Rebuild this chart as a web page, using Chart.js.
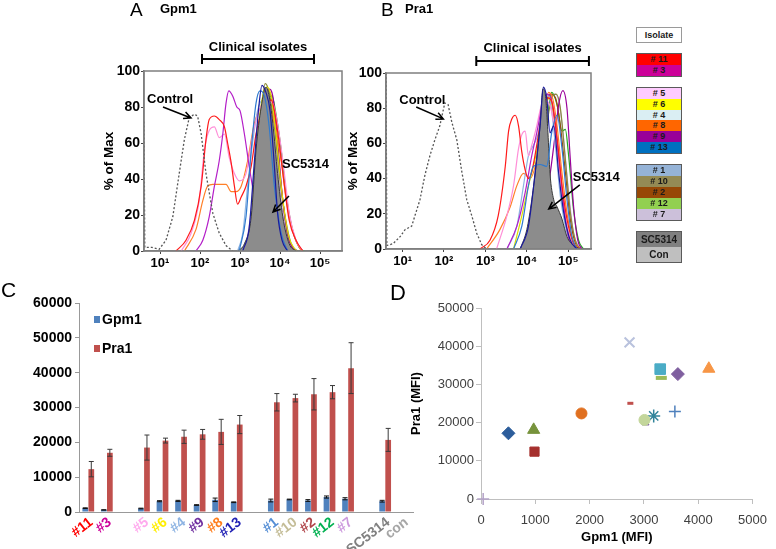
<!DOCTYPE html>
<html>
<head>
<meta charset="utf-8">
<script src="https://cdn.jsdelivr.net/npm/chart.js@4.4.1/dist/chart.umd.min.js"></script>
<style>
body { margin: 0; background: #fff; }
#page { position: relative; width: 776px; height: 549px; overflow: hidden; font-family: "Liberation Sans", Arial, sans-serif; }
#page canvas { position: absolute; left: 0; top: 0; }
.t { position: absolute; line-height: 1; z-index: 5; color: #000; }
.b { font-weight: bold; }
.grp { position: absolute; left: 636px; width: 46px; box-sizing: border-box; border: 1px solid #5a5a5a; z-index: 5; }
.grp div { text-align: center; font: bold 9px "Liberation Sans", Arial, sans-serif; color: #1a1a1a; overflow: hidden; }
</style>
</head>
<body>
<div id="page">
  <canvas id="cA" width="776" height="549"></canvas>
  <canvas id="cB" width="776" height="549"></canvas>
  <canvas id="cC" width="776" height="549"></canvas>
  <canvas id="cD" width="776" height="549"></canvas>
  <div class="t" style="left:130px;top:0;font-size:19px">A</div>
  <div class="t b" style="left:160px;top:2px;font-size:13px">Gpm1</div>
  <div class="t" style="left:381px;top:0;font-size:19px">B</div>
  <div class="t b" style="left:405px;top:2px;font-size:13px">Pra1</div>
  <div class="t" style="left:1px;top:279px;font-size:21px">C</div>
  <div class="t" style="left:390px;top:282px;font-size:22px">D</div>
  <div id="key"></div>
</div>
<script>
Chart.defaults.font.family = '"Liberation Sans", Arial, sans-serif';
Chart.defaults.color = '#000';

// ---- A / B histograms: [log10 intensity, % of max]
const decadeTicks = [1, 2, 3, 4, 5];
const sup = { 1: '\u00b9', 2: '\u00b2', 3: '\u00b3', 4: '\u2074', 5: '\u2075' };

const gpmCtrl = [[0.6,72],[0.62,2],[0.8,2],[0.98,1],[1.15,6],[1.32,19],[1.48,43],[1.61,62],[1.73,74],[1.86,76],[1.94,75],[2.03,65],[2.15,43],[2.32,21],[2.48,10],[2.65,3],[2.82,0]];
const gpmSC5314 = [[2.94,0],[3.11,4],[3.28,19],[3.40,56],[3.53,80],[3.65,91],[3.72,87],[3.82,71],[3.94,43],[4.07,19],[4.23,4],[4.40,0]];
const gpm13 = [[3.07,0],[3.23,13],[3.36,50],[3.47,80],[3.55,92],[3.65,88],[3.75,78],[3.86,47],[3.94,21],[4.05,6],[4.19,0]];
const gpm1 = [[2.98,0],[3.15,19],[3.28,56],[3.40,82],[3.50,89],[3.61,86],[3.73,69],[3.86,36],[4.03,10],[4.19,0]];
const gpm11 = [[1.40,0],[1.65,6],[1.86,17],[2.03,36],[2.15,62],[2.23,73],[2.36,75],[2.48,73],[2.61,69],[2.69,60],[2.78,49],[2.86,36],[2.94,26],[3.03,30],[3.15,36],[3.28,47],[3.40,65],[3.53,76],[3.65,80],[3.78,84],[3.86,78],[3.98,60],[4.11,36],[4.23,17],[4.40,6],[4.57,0]];
const gpm3 = [[1.90,0],[2.07,6],[2.23,19],[2.36,36],[2.48,50],[2.57,65],[2.65,82],[2.72,89],[2.82,86],[2.92,80],[3.00,78],[3.11,65],[3.23,47],[3.36,30],[3.48,19],[3.65,10],[3.78,4],[3.94,0]];
const gpm5 = [[1.53,0],[1.78,10],[1.98,28],[2.11,56],[2.23,67],[2.36,69],[2.48,63],[2.61,65],[2.73,52],[2.86,43],[2.98,39],[3.15,43],[3.32,65],[3.48,78],[3.65,84],[3.82,82],[3.98,65],[4.11,43],[4.23,21],[4.40,6],[4.57,0]];
const gpm6 = [[3.15,0],[3.30,21],[3.42,60],[3.55,84],[3.67,91],[3.78,86],[3.90,65],[4.05,32],[4.22,8],[4.40,0]];
const gpm4 = [[2.94,0],[3.07,10],[3.19,36],[3.32,61],[3.44,78],[3.57,84],[3.69,80],[3.82,61],[3.98,28],[4.15,6],[4.32,0]];
const gpm8 = [[1.61,0],[1.90,12],[2.07,28],[2.19,36],[2.32,37],[2.48,37],[2.65,37],[2.78,33],[2.90,33],[3.03,36],[3.19,50],[3.36,71],[3.53,80],[3.69,82],[3.86,71],[4.03,50],[4.19,24],[4.36,8],[4.53,0]];
const gpm9 = [[3.19,0],[3.33,21],[3.47,58],[3.61,82],[3.72,90],[3.82,86],[3.94,61],[4.07,28],[4.23,6],[4.40,0]];
const gpm10 = [[3.15,0],[3.30,17],[3.42,50],[3.53,78],[3.63,93],[3.73,88],[3.86,69],[3.98,43],[4.13,19],[4.28,4],[4.44,0]];
const gpm2 = [[3.19,0],[3.33,19],[3.47,56],[3.58,80],[3.69,89],[3.80,84],[3.92,61],[4.05,32],[4.19,9],[4.36,0]];
const gpm12 = [[3.15,0],[3.32,13],[3.44,43],[3.57,71],[3.69,84],[3.80,86],[3.90,76],[4.03,56],[4.15,32],[4.30,13],[4.48,2],[4.61,0]];
const gpm7 = [[3.11,0],[3.25,17],[3.38,50],[3.51,74],[3.63,84],[3.75,80],[3.88,58],[4.03,28],[4.19,6],[4.36,0]];

const praCtrl = [[0.6,100],[0.62,2],[0.77,3],[0.94,7],[1.06,11],[1.22,13],[1.30,19],[1.42,28],[1.54,42],[1.66,53],[1.78,62],[1.90,70],[2.02,83],[2.10,82],[2.19,72],[2.31,62],[2.43,44],[2.55,28],[2.67,19],[2.79,9],[2.91,2.5],[3.03,0]];
const praSC5314 = [[3.84,0],[4.00,11],[4.12,28],[4.24,51],[4.32,70],[4.39,91],[4.44,89],[4.51,66],[4.56,43],[4.65,28],[4.73,24],[4.85,17],[4.97,7],[5.13,2],[5.29,0]];
const pra13 = [[3.84,0],[4.04,13],[4.20,43],[4.32,70],[4.40,92],[4.48,86],[4.56,66],[4.65,70],[4.77,43],[4.89,21],[5.05,5],[5.21,0]];
const pra1 = [[3.68,0],[3.88,13],[4.04,36],[4.16,47],[4.32,48],[4.48,47],[4.60,66],[4.73,76],[4.85,57],[4.97,28],[5.09,7],[5.21,0]];
const pra11 = [[2.87,0],[3.11,5],[3.31,19],[3.48,47],[3.56,67],[3.64,74],[3.72,76],[3.80,70],[3.88,55],[3.96,45],[4.04,40],[4.12,44],[4.24,59],[4.36,76],[4.48,86],[4.60,84],[4.73,63],[4.85,36],[4.97,17],[5.13,3],[5.29,0]];
const pra3 = [[3.52,0],[3.76,13],[3.96,32],[4.12,53],[4.24,66],[4.36,80],[4.48,88],[4.58,86],[4.69,70],[4.81,44],[4.93,17],[5.05,3],[5.17,0]];
const pra5 = [[3.27,0],[3.52,19],[3.68,36],[3.80,57],[3.88,65],[3.96,67],[4.04,53],[4.12,59],[4.24,70],[4.36,82],[4.48,84],[4.60,78],[4.73,57],[4.87,28],[5.01,9],[5.17,0]];
const pra6 = [[3.68,0],[3.88,19],[4.04,36],[4.20,51],[4.32,66],[4.44,80],[4.55,86],[4.65,76],[4.77,51],[4.89,24],[5.05,5],[5.21,0]];
const pra4 = [[3.52,0],[3.76,13],[3.92,36],[4.04,53],[4.16,59],[4.28,66],[4.40,84],[4.48,88],[4.58,82],[4.69,59],[4.81,30],[4.97,9],[5.13,0]];
const pra8 = [[3.03,0],[3.35,11],[3.60,24],[3.76,36],[3.92,43],[4.08,40],[4.24,51],[4.40,76],[4.53,89],[4.63,85],[4.73,70],[4.85,43],[4.98,19],[5.13,4],[5.29,0]];
const pra9 = [[4.16,0],[4.40,17],[4.56,42],[4.69,66],[4.77,82],[4.87,90],[4.97,80],[5.05,51],[5.13,24],[5.23,5],[5.33,0]];
const pra10 = [[4.00,0],[4.16,13],[4.32,44],[4.48,70],[4.60,86],[4.71,88],[4.81,80],[4.93,51],[5.05,21],[5.17,5],[5.29,0]];
const pra2 = [[4.00,0],[4.18,19],[4.32,51],[4.44,78],[4.56,88],[4.69,86],[4.81,70],[4.93,44],[5.05,17],[5.21,1.5],[5.33,0]];
const pra12 = [[4.08,0],[4.24,13],[4.40,47],[4.53,80],[4.60,89],[4.73,82],[4.85,67],[4.93,68],[5.01,53],[5.13,22],[5.25,5],[5.37,0]];
const pra7 = [[3.92,0],[4.12,13],[4.28,40],[4.44,70],[4.58,86],[4.69,88],[4.79,82],[4.89,62],[5.01,32],[5.13,9],[5.29,0]];

// drawing order: first entries end up on top
const histIsolates = ['#13', '#1', '#11', '#3', '#5', '#6', '#4', '#8', '#9', '#10', '#2', '#12', '#7'];
const lineColors = ['#1a1a9c', '#2e7ad0', '#ff1a1a', '#b41ec8', '#ff8fd8', '#dede00', '#8db4e2', '#ff7f27', '#9a009a', '#8a8a3a', '#9a4a10', '#22a822', '#c8a8e8'];
const gpmCurves = [gpm13, gpm1, gpm11, gpm3, gpm5, gpm6, gpm4, gpm8, gpm9, gpm10, gpm2, gpm12, gpm7];
const praCurves = [pra13, pra1, pra11, pra3, pra5, pra6, pra4, pra8, pra9, pra10, pra2, pra12, pra7];

// ---- C bars
const barLabels = ['#11', '#3', '', '#5', '#6', '#4', '#9', '#8', '#13', '', '#1', '#10', '#2', '#12', '#7', '', 'SC5314', 'con'];
const gpm1Mfi = [1100, 600, null, 1000, 3100, 3200, 2000, 3500, 2800, null, 3300, 3600, 3300, 4300, 3800, null, 3100, 0];
const gpm1Err = [100, 50, null, 100, 150, 150, 100, 500, 100, null, 400, 100, 250, 300, 300, null, 250, 0];
const pra1Mfi = [12300, 17000, null, 18500, 20500, 21600, 22300, 23000, 25100, null, 31500, 32700, 33800, 34400, 41300, null, 20700, 0];
const pra1Err = [2200, 1000, null, 3600, 700, 1900, 1400, 3600, 2600, null, 2500, 1100, 4500, 1900, 7300, null, 3300, 0];
const labelColors = ['#ff0000', '#cc0099', '#000', '#ffaaee', '#ffee00', '#8eb4e3', '#7030a0', '#ff7f1e', '#1f1fb4', '#000', '#558ed5', '#c4bd97', '#b0454a', '#00b050', '#cc99dd', '#000', '#808080', '#a6a6a6'];

// ---- D scatter
const scatterIsolates = ['#6', 'SC5314', '#3', '#5', '#11', '#9', '#13', '#7', '#2', '#1', '#10', '#12', '#4', '#8', 'con'];
const scatterGpm1 = [3010, 3030, 505, 970, 985, 1850, 2750, 2735, 3300, 3320, 3625, 4195, 3180, 3570, 40];
const scatterPra1 = [20700, 19900, 17200, 18100, 12400, 22400, 25050, 41000, 34000, 31700, 32700, 34100, 21750, 22900, 0];
const markerStyles = ['circle', 'triangle', 'rectRot', 'triangle', 'rect', 'circle', 'line', 'crossRot', 'rect', 'line', 'rectRot', 'triangle', 'star', 'cross', 'cross'];
const markerColors = ['#c3d69b', '#8064a2', '#2c5d9b', '#77933c', '#a5302d', '#e07020', '#c0504d', '#b9c2dd', '#4bacc6', '#9bbb59', '#7f5f9f', '#f79646', '#31849b', '#4f81bd', '#b3a2c7'];
const markerSizes = [5.5, 4, 6.5, 7, 6.5, 5.5, 3, 7, 7.5, 5.5, 6.5, 7, 6.5, 6, 6];
const markerLines = [1, 1, 1, 1, 1, 1, 3, 2, 1, 4, 1, 1, 1.5, 1.5, 1.5];

// ---- right-hand colour key
const keyLabels = [['Isolate'], ['# 11', '# 3'], ['# 5', '# 6', '# 4', '# 8', '# 9', '# 13'], ['# 1', '# 10', '# 2', '# 12', '# 7'], ['SC5314', 'Con']];
const keyFills = [['#ffffff'], ['#ff0000', '#cc0099'], ['#ffccff', '#ffff00', '#daeef3', '#ff6600', '#990099', '#0070c0'], ['#95b3d7', '#948a54', '#974806', '#92d050', '#ccc0da'], ['#808080', '#bfbfbf']];
const keyTops = [27, 53, 87, 164, 231];
const keyRowH = [14, 11, 10.8, 11, 15];

const notesA = [
  { text: 'Control', x: 0.675, y: 84.4 },
  { arrow: [1.075, 80, 1.775, 73.9] },
  { text: 'SC5314', x: 4.05, y: 48 },
  { arrow: [4.225, 30.6, 3.825, 21.7] },
  { bracket: [2.05, 4.85, 106.7], label: 'Clinical isolates', ly: 113.3 }
];
const notesB = [
  { text: 'Control', x: 0.92, y: 84.7 },
  { arrow: [1.33, 80.7, 1.985, 73.9] },
  { text: 'SC5314', x: 5.11, y: 40.9 },
  { arrow: [5.28, 36.4, 4.53, 22.7] },
  { bracket: [2.78, 5.5, 106.8], label: 'Clinical isolates', ly: 114 }
];

const FONT = '"Liberation Sans", Arial, sans-serif';
const toXY = pts => pts.map(p => ({ x: p[0], y: p[1] }));

function notesPlugin(notes) {
  return {
    id: 'notes',
    afterDraw(chart) {
      const { ctx, chartArea: a, scales: { x, y } } = chart;
      ctx.save();
      ctx.strokeStyle = '#7f7f7f';
      ctx.lineWidth = 1.5;
      ctx.strokeRect(a.left, a.top, a.right - a.left, a.bottom - a.top);
      ctx.fillStyle = '#000';
      ctx.strokeStyle = '#000';
      ctx.font = 'bold 13px ' + FONT;
      ctx.textBaseline = 'middle';
      notes.forEach(n => {
        if (n.text) {
          ctx.textAlign = 'left';
          ctx.fillText(n.text, x.getPixelForValue(n.x), y.getPixelForValue(n.y));
        }
        if (n.arrow) {
          const x1 = x.getPixelForValue(n.arrow[0]), y1 = y.getPixelForValue(n.arrow[1]);
          const x2 = x.getPixelForValue(n.arrow[2]), y2 = y.getPixelForValue(n.arrow[3]);
          const ang = Math.atan2(y2 - y1, x2 - x1);
          ctx.lineWidth = 1.5;
          ctx.beginPath();
          ctx.moveTo(x1, y1);
          ctx.lineTo(x2, y2);
          ctx.moveTo(x2 - 8 * Math.cos(ang - 0.45), y2 - 8 * Math.sin(ang - 0.45));
          ctx.lineTo(x2, y2);
          ctx.lineTo(x2 - 8 * Math.cos(ang + 0.45), y2 - 8 * Math.sin(ang + 0.45));
          ctx.stroke();
        }
        if (n.bracket) {
          const x1 = x.getPixelForValue(n.bracket[0]), x2 = x.getPixelForValue(n.bracket[1]);
          const yy = y.getPixelForValue(n.bracket[2]);
          ctx.lineWidth = 2;
          ctx.beginPath();
          ctx.moveTo(x1, yy); ctx.lineTo(x2, yy);
          ctx.moveTo(x1, yy - 5); ctx.lineTo(x1, yy + 5);
          ctx.moveTo(x2, yy - 5); ctx.lineTo(x2, yy + 5);
          ctx.stroke();
          ctx.textAlign = 'center';
          ctx.fillText(n.label, (x1 + x2) / 2, y.getPixelForValue(n.ly));
        }
      });
      ctx.restore();
    }
  };
}

function histDatasets(ctrl, sc, curves) {
  const sets = curves.map((c, i) => ({ label: histIsolates[i], data: toXY(c), borderColor: lineColors[i], borderWidth: 1.2, fill: false }));
  sets.splice(2, 0, { label: 'SC5314', data: toXY(sc), fill: 'origin', backgroundColor: '#8c8c8c', borderColor: '#3a3a3a', borderWidth: 1 });
  sets.unshift({ label: 'Control', data: toXY(ctrl), borderColor: '#555', borderDash: [2, 2], borderWidth: 1.3, fill: false, cubicInterpolationMode: 'default', tension: 0 });
  return sets;
}

function histChart(id, datasets, pad, yWidth, notes) {
  return new Chart(document.getElementById(id), {
    type: 'line',
    data: { datasets },
    options: {
      responsive: false,
      animation: false,
      layout: { padding: pad },
      plugins: { legend: { display: false }, tooltip: { enabled: false } },
      elements: { point: { radius: 0 }, line: { cubicInterpolationMode: 'monotone' } },
      scales: {
        x: {
          type: 'linear', min: 0.6, max: 5.55,
          afterBuildTicks: ax => { ax.ticks = decadeTicks.map(v => ({ value: v })); },
          afterFit: ax => { ax.height = 29; },
          grid: { drawOnChartArea: false, tickLength: 3, color: '#444' },
          border: { color: '#7f7f7f', width: 1.5 },
          ticks: { callback: v => '10' + sup[v], font: { size: 13, weight: 'bold' }, padding: 2, maxRotation: 0 }
        },
        y: {
          min: 0, max: 100,
          afterFit: ax => { ax.width = yWidth; },
          grid: { drawOnChartArea: false, tickLength: 3, color: '#444' },
          border: { color: '#7f7f7f', width: 1.5 },
          ticks: { stepSize: 20, font: { size: 14, weight: 'bold' }, padding: 1 },
          title: { display: true, text: '% of Max', font: { size: 13.5, weight: 'bold' }, padding: { top: 4, bottom: 0 } }
        }
      }
    },
    plugins: [notesPlugin(notes)]
  });
}

histChart('cA', histDatasets(gpmCtrl, gpmSC5314, gpmCurves), { left: 97, top: 71, right: 434, bottom: 269 }, 47, notesA);
histChart('cB', histDatasets(praCtrl, praSC5314, praCurves), { left: 341, top: 73, right: 185, bottom: 271 }, 45, notesB);

const errorBars = {
  id: 'errorBars',
  afterDatasetsDraw(chart) {
    const ctx = chart.ctx, yScale = chart.scales.y;
    chart.data.datasets.forEach((ds, di) => {
      const meta = chart.getDatasetMeta(di);
      meta.data.forEach((bar, i) => {
        const v = ds.data[i], e = ds.errors[i];
        if (v == null || !e) return;
        const top = yScale.getPixelForValue(v + e), bot = yScale.getPixelForValue(v - e);
        ctx.save();
        ctx.strokeStyle = ds.errorColor;
        ctx.lineWidth = 1;
        ctx.beginPath();
        ctx.moveTo(bar.x, top); ctx.lineTo(bar.x, bot);
        ctx.moveTo(bar.x - 2.5, top); ctx.lineTo(bar.x + 2.5, top);
        ctx.moveTo(bar.x - 2.5, bot); ctx.lineTo(bar.x + 2.5, bot);
        ctx.stroke();
        ctx.restore();
      });
    });
  }
};

const barLegend = {
  id: 'barLegend',
  afterDraw(chart) {
    const { ctx, chartArea: a } = chart;
    ctx.save();
    chart.data.datasets.forEach((ds, i) => {
      const cy = a.top + 16 + i * 29;
      ctx.fillStyle = ds.backgroundColor;
      ctx.fillRect(a.left + 15, cy - 3, 6, 7);
      ctx.fillStyle = '#000';
      ctx.font = 'bold 14px ' + FONT;
      ctx.textBaseline = 'middle';
      ctx.fillText(ds.label, a.left + 23, cy + 1);
    });
    ctx.restore();
  }
};

new Chart(document.getElementById('cC'), {
  type: 'bar',
  data: {
    labels: barLabels,
    datasets: [
      { label: 'Gpm1', data: gpm1Mfi, errors: gpm1Err, errorColor: '#111', backgroundColor: '#4f81bd' },
      { label: 'Pra1', data: pra1Mfi, errors: pra1Err, errorColor: '#3a3a3a', backgroundColor: '#c0504d' }
    ]
  },
  options: {
    responsive: false,
    animation: false,
    layout: { padding: { left: 0, top: 303, right: 363, bottom: 0 } },
    datasets: { bar: { categoryPercentage: 0.65, barPercentage: 0.95 } },
    plugins: { legend: { display: false }, tooltip: { enabled: false } },
    scales: {
      x: {
        grid: { display: false },
        border: { color: '#999' },
        afterFit: ax => { ax.height = 37; },
        ticks: { autoSkip: false, minRotation: 38, maxRotation: 38, padding: -6, labelOffset: 3, font: { size: 14, weight: 'bold' }, color: c => labelColors[c.index] }
      },
      y: {
        min: 0, max: 60000,
        afterFit: ax => { ax.width = 79; },
        grid: { drawOnChartArea: false, tickLength: 4, color: '#999' },
        border: { color: '#999' },
        ticks: { stepSize: 10000, font: { size: 14, weight: 'bold' }, padding: 3, callback: v => String(v) }
      }
    }
  },
  plugins: [errorBars, barLegend]
});

new Chart(document.getElementById('cD'), {
  type: 'scatter',
  data: {
    datasets: scatterIsolates.map((name, i) => ({
      label: name,
      data: [{ x: scatterGpm1[i], y: scatterPra1[i] }],
      pointStyle: markerStyles[i],
      pointRadius: markerSizes[i],
      backgroundColor: markerColors[i],
      borderColor: markerColors[i],
      borderWidth: markerLines[i],
      clip: false
    }))
  },
  options: {
    responsive: false,
    animation: false,
    layout: { padding: { left: 405, top: 308, right: 15, bottom: 0 } },
    plugins: { legend: { display: false }, tooltip: { enabled: false } },
    scales: {
      x: {
        type: 'linear', min: 0, max: 5000,
        afterFit: ax => { ax.height = 50; },
        grid: { drawOnChartArea: false, tickLength: 5, color: '#bfbfbf' },
        border: { color: '#bfbfbf' },
        ticks: { stepSize: 1000, padding: 9, font: { size: 13 }, color: '#404040', callback: v => String(v) },
        title: { display: true, text: 'Gpm1 (MFI)', font: { size: 13, weight: 'bold' }, padding: { top: 0, bottom: 4 } }
      },
      y: {
        min: 0, max: 50000,
        afterFit: ax => { ax.width = 76; },
        grid: { drawOnChartArea: false, tickLength: 5, color: '#bfbfbf' },
        border: { color: '#bfbfbf' },
        ticks: { stepSize: 10000, padding: 2, font: { size: 13 }, color: '#404040', callback: v => String(v) },
        title: { display: true, text: 'Pra1 (MFI)', font: { size: 13, weight: 'bold' }, padding: { top: 4, bottom: 0 } }
      }
    }
  }
});

const key = document.getElementById('key');
keyLabels.forEach((group, g) => {
  const box = document.createElement('div');
  box.className = 'grp';
  box.style.top = keyTops[g] + 'px';
  if (g === 0) box.style.borderColor = '#9a9a9a';
  group.forEach((label, r) => {
    const row = document.createElement('div');
    row.textContent = label;
    row.style.background = keyFills[g][r];
    row.style.height = keyRowH[g] + 'px';
    row.style.lineHeight = keyRowH[g] + 'px';
    if (g === 4) row.style.fontSize = '10px';
    box.appendChild(row);
  });
  key.appendChild(box);
});
</script>
</body>
</html>
